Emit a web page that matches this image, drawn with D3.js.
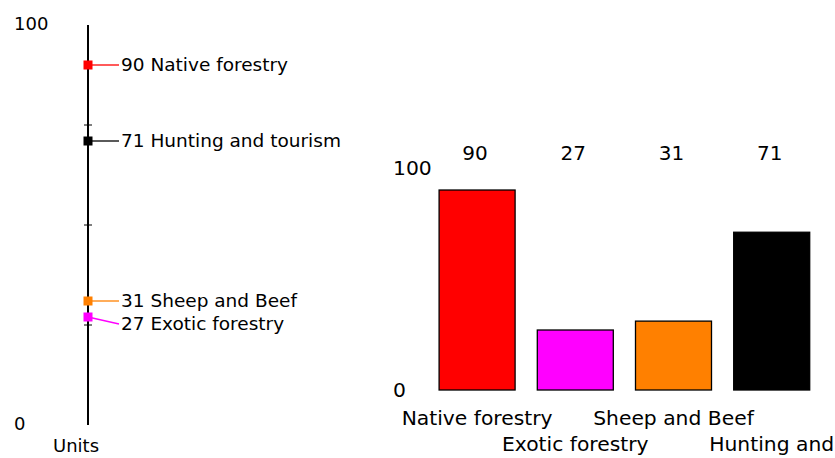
<!DOCTYPE html>
<html>
<head>
<meta charset="utf-8">
<script src="https://cdn.jsdelivr.net/npm/d3@7"></script>
<style>
  html, body { margin: 0; padding: 0; background: #fff; }
  svg { display: block; }
  text { font-family: "DejaVu Sans", Verdana, sans-serif; fill: #000; }
</style>
</head>
<body>
<svg id="chart" width="835" height="458"></svg>
<script>
const categories = ["Native forestry", "Exotic forestry", "Sheep and Beef", "Hunting and tourism"];
const values = [90, 27, 31, 71];
const colors = ["#ff0000", "#ff00ff", "#ff8000", "#000000"];
const axisTicks = [25, 50, 75];
const axisEndLabels = [0, 100];
const axisTitle = "Units";

const svg = d3.select("#chart");
const data = categories.map((c, i) => ({ name: c, value: values[i], color: colors[i] }));

// ---------- Left: single-axis dot scale ----------
const axisX = 88;
const yL = d3.scaleLinear().domain([0, 100]).range([425, 25]);
const left = svg.append("g");

left.append("line")
  .attr("x1", axisX).attr("x2", axisX)
  .attr("y1", yL(0)).attr("y2", yL(100))
  .attr("stroke", "#000").attr("stroke-width", 2);

left.selectAll("line.tick").data(axisTicks).join("line")
  .attr("class", "tick")
  .attr("x1", axisX - 4).attr("x2", axisX + 4)
  .attr("y1", d => yL(d)).attr("y2", d => yL(d))
  .attr("stroke", "#000").attr("stroke-width", 1);

left.selectAll("text.end").data(axisEndLabels).join("text")
  .attr("class", "end")
  .attr("x", 14).attr("y", d => yL(d) - 1)
  .attr("dy", "0.36em")
  .style("font-size", "18px")
  .text(d => d);

left.append("text")
  .attr("x", 76).attr("y", 446).attr("dy", "0.36em")
  .attr("text-anchor", "middle")
  .style("font-size", "18px")
  .text(axisTitle);

// label placement with simple collision avoidance
const sorted = data.slice().sort((a, b) => b.value - a.value);
let prevY = -Infinity;
sorted.forEach(d => {
  let y = yL(d.value);
  if (y < prevY + 23) y = prevY + 23;
  d.labelY = y;
  prevY = y;
});

left.selectAll("line.leader").data(sorted).join("line")
  .attr("class", "leader")
  .attr("x1", axisX).attr("y1", d => yL(d.value))
  .attr("x2", axisX + 31).attr("y2", d => d.labelY)
  .attr("stroke", d => d.color).attr("stroke-width", 1.3);

left.selectAll("rect.marker").data(sorted).join("rect")
  .attr("class", "marker")
  .attr("x", axisX - 4.5).attr("y", d => yL(d.value) - 4.5)
  .attr("width", 9).attr("height", 9)
  .attr("fill", d => d.color);

left.selectAll("text.lab").data(sorted).join("text")
  .attr("class", "lab")
  .attr("x", axisX + 33).attr("y", d => d.labelY - 1)
  .attr("dy", "0.36em")
  .style("font-size", "18.5px")
  .text(d => d.value + " " + d.name);

// ---------- Right: bar chart ----------
const x = d3.scaleBand().domain(categories)
  .range([428, 820.8]).paddingInner(0.226).paddingOuter(0.113);
const yR = d3.scaleLinear().domain([0, 100]).range([390, 167.8]);
const right = svg.append("g");

right.selectAll("text.yl").data(axisEndLabels).join("text")
  .attr("class", "yl")
  .attr("x", 393).attr("y", d => yR(d))
  .attr("dy", "0.36em")
  .style("font-size", "20.3px")
  .text(d => d);

right.selectAll("rect.bar").data(data).join("rect")
  .attr("class", "bar")
  .attr("x", d => x(d.name)).attr("width", x.bandwidth())
  .attr("y", d => yR(d.value)).attr("height", d => yR(0) - yR(d.value))
  .attr("fill", d => d.color)
  .attr("stroke", "#000").attr("stroke-width", 1.3);

right.selectAll("text.val").data(data).join("text")
  .attr("class", "val")
  .attr("x", d => x(d.name) + x.bandwidth() / 2 - 2)
  .attr("y", 152.5).attr("dy", "0.36em")
  .attr("text-anchor", "middle")
  .style("font-size", "20px")
  .text(d => d.value);

// category labels, staggered in two rows, wrapped if too wide
const maxW = 190;
right.selectAll("text.cat").data(data).join("text")
  .attr("class", "cat")
  .attr("text-anchor", "middle")
  .style("font-size", "20.3px")
  .each(function (d, i) {
    const t = d3.select(this);
    const cx = x(d.name) + x.bandwidth() / 2;
    const y0 = i % 2 === 0 ? 418 : 444;
    t.attr("x", cx).attr("y", y0).attr("dy", "0.36em");
    const words = d.name.split(" ");
    let lines = [], line = [];
    const probe = t.append("tspan");
    words.forEach(w => {
      const test = line.concat(w).join(" ");
      probe.text(test);
      if (probe.node().getComputedTextLength() > maxW && line.length) {
        lines.push(line.join(" "));
        line = [w];
      } else line.push(w);
    });
    lines.push(line.join(" "));
    probe.remove();
    lines.forEach((ln, k) => {
      t.append("tspan").attr("x", cx).attr("dy", k === 0 ? "0.36em" : "1.2em").text(ln);
    });
  });
</script>
</body>
</html>
